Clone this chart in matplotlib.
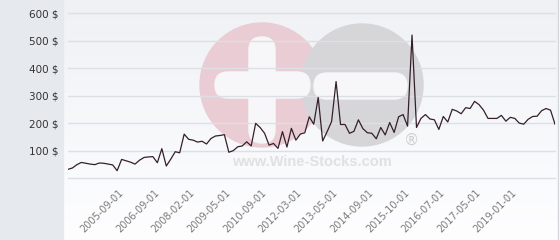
import matplotlib.pyplot as plt
import numpy as np
from matplotlib.patches import Circle, FancyBboxPatch, Rectangle

# price history (USD), one value per recorded date
prices = [33, 38, 50, 58, 55, 52, 50, 56, 55, 52,
          49, 28, 69, 64, 59, 52, 66, 76, 78, 79,
          57, 108, 45, 70, 97, 93, 161, 142, 139, 132,
          135, 125, 145, 154, 156, 159, 95, 101, 115, 118,
          133, 118, 200, 185, 164, 121, 127, 109, 170, 114,
          182, 139, 161, 166, 224, 197, 294, 136, 170, 207,
          352, 196, 196, 164, 171, 213, 181, 166, 164, 144,
          185, 158, 203, 167, 224, 232, 190, 521, 185, 218,
          232, 216, 213, 178, 225, 205, 251, 245, 235, 257,
          254, 280, 268, 248, 218, 218, 218, 229, 208, 222,
          218, 201, 197, 215, 225, 226, 246, 254, 248, 197]

tick_pos = [12, 20, 28, 36, 44, 52, 60, 68, 76, 84, 92, 100]
tick_labels = ["2005-09-01", "2006-09-01", "2008-02-01", "2009-05-01",
               "2010-09-01", "2012-03-01", "2013-05-01", "2014-09-01",
               "2015-10-01", "2016-07-01", "2017-05-01", "2019-01-01"]
y_ticks = [0, 100, 200, 300, 400, 500, 600]
y_labels = ["", "100 $", "200 $", "300 $", "400 $", "500 $", "600 $"]

fig = plt.figure(figsize=(5.6, 2.4), dpi=100)

# background layer in pixel units: side panel, gradient, watermark
bg = fig.add_axes([0, 0, 1, 1], zorder=0)
grad = np.linspace(0, 1, 100)[:, None]
top = np.array([0xef, 0xf1, 0xf5]) / 255
bot = np.array([0xfe, 0xfe, 0xff]) / 255
img = top + grad[..., None] * (bot - top)
bg.imshow(np.repeat(img, 2, axis=1), extent=(63, 558, 240, 0), aspect='auto')
bg.add_patch(Rectangle((0, 0), 63, 240, color='#e6eaee'))
bg.plot([558, 558], [0, 240], color='#d3d7dc', lw=1)

bg.add_patch(Circle((262, 85), 62, color='#eacdd4'))
bg.add_patch(Circle((362, 85), 61, color='#d6d6d8'))
bar = dict(boxstyle='round,pad=0,rounding_size=13', color='#f7f7f9')
bg.add_patch(FancyBboxPatch((215, 72), 95, 26, **bar))
bg.add_patch(FancyBboxPatch((249, 37), 26, 106, **bar))
bg.add_patch(FancyBboxPatch((314, 73), 93, 26, **bar))
bg.text(312, 162, "www.Wine-Stocks.com", ha='center', va='center',
        fontsize=10.5, fontweight='bold', color='#e1e1e4', family='Liberation Sans')
bg.text(412, 140, "\u00ae", ha='center', va='center', fontsize=11,
        color='#cfcfd2', family='DejaVu Sans')
bg.set_xlim(0, 560)
bg.set_ylim(240, 0)
bg.axis('off')

ax = fig.add_axes([68 / 560, (240 - 178.4) / 240, 487 / 560, 165.1 / 240], zorder=1)
ax.patch.set_alpha(0)
ax.plot(range(len(prices)), prices, color='#35202a', lw=0.9)
ax.set_xlim(0, len(prices) - 1)
ax.set_ylim(0, 600)

ax.set_yticks(y_ticks, y_labels)
ax.grid(axis='y', color='#dcdfe3', lw=1)
for gl in ax.get_ygridlines():
    gl.set_clip_on(False)
ax.set_axisbelow(True)
ax.set_xticks(tick_pos, tick_labels)
for lbl in ax.get_xticklabels():
    lbl.set_rotation(45)
    lbl.set_ha('right')
    lbl.set_va('center')
    lbl.set_rotation_mode('anchor')
ax.tick_params(axis='x', length=0, pad=9, labelsize=7, labelcolor='#7a7a7a')
ax.tick_params(axis='y', length=0, pad=6.5, labelsize=7.5, labelcolor='#333333')
for s in ax.spines.values():
    s.set_visible(False)

fig.savefig("out.png", dpi=100)
